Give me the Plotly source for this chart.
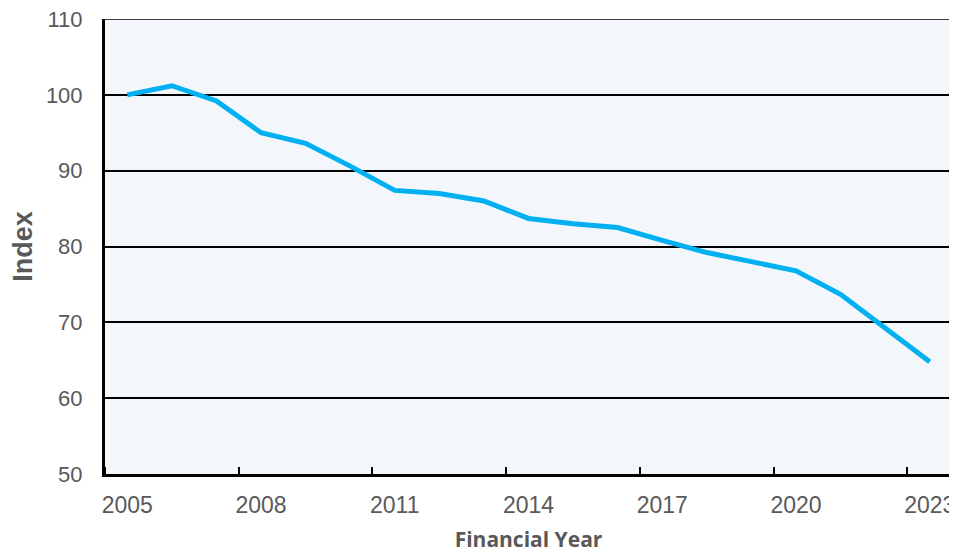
import plotly.graph_objects as go

years = list(range(2005, 2024))
index_values = [100.0, 101.2, 99.2, 95.0, 93.6, 90.6, 87.4, 87.0, 86.0, 83.7,
                83.0, 82.5, 80.8, 79.2, 78.0, 76.8, 73.7, 69.3, 64.8]
label_years = [2005, 2008, 2011, 2014, 2017, 2020, 2023]
y_ticks = [50, 60, 70, 80, 90, 100, 110]

fig = go.Figure()
fig.add_trace(go.Scatter(
    x=years, y=index_values, mode="lines",
    line=dict(color="#00B0F0", width=5),
    showlegend=False, hoverinfo="skip"))

# page body has an 8px default margin; size/margins compensate for it
fig.update_layout(
    width=949, height=545,
    margin=dict(l=97, r=5, t=11, b=79),
    paper_bgcolor="white",
    plot_bgcolor="#F3F7FC",
    font=dict(family="Liberation Sans, Arial, sans-serif", color="#595959"),
)
# top border line at the 110 gridline
fig.add_shape(type="line", xref="paper", yref="y", x0=0, x1=1, y0=110, y1=110,
              line=dict(color="black", width=1.5), layer="above")

fig.update_xaxes(
    range=[2004.5, 2023.5], automargin=False,
    tickmode="array", tickvals=label_years,
    ticktext=[str(v) for v in label_years],
    ticks="", showgrid=False, zeroline=False,
    showline=True, linecolor="black", linewidth=3,
    tickfont=dict(size=23, color="#595959"),
    ticklabelstandoff=8, ticklabeloverflow="allow",
    minor=dict(tick0=2004.5, dtick=3, ticks="inside", ticklen=7,
               tickwidth=2, tickcolor="black", showgrid=False),
    title=dict(text="<b>Financial Year</b>",
               font=dict(family="Open Sans, sans-serif", size=21, color="#595959"),
               standoff=19),
)
fig.update_yaxes(
    range=[50, 110], automargin=False,
    tickmode="array", tickvals=y_ticks,
    ticks="", showgrid=True, gridcolor="black", gridwidth=1.5,
    zeroline=False,
    showline=True, linecolor="black", linewidth=3,
    tickfont=dict(size=22, color="#595959"),
    ticklabelstandoff=15, ticklabeloverflow="allow",
    title=dict(text="<b>Index</b>",
               font=dict(family="Liberation Sans, Arial, sans-serif", size=27, color="#595959"),
               standoff=8),
)

fig.write_html("out.html")
